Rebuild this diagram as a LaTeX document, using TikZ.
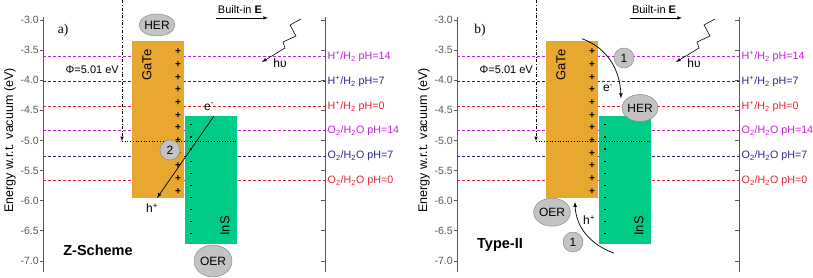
\documentclass[tikz,border=0pt]{standalone}
\usepackage{fontspec}
\setmainfont{Liberation Sans}
\newfontfamily\panelfont{Liberation Serif}
\usepackage{xcolor}
\usepackage{tikz}
\usetikzlibrary{arrows.meta,calc,positioning,shapes.geometric}
\definecolor{lvmag}{RGB}{200,30,220}
\definecolor{lvblue}{RGB}{40,40,140}
\definecolor{lvred}{RGB}{225,40,50}
\definecolor{gatecol}{RGB}{232,168,48}
\definecolor{inscol}{RGB}{0,204,136}
\definecolor{blobcol}{RGB}{195,195,195}
\newcommand\hredox{H\textsuperscript{+}/H\textsubscript{2}}
\newcommand\oredox{O\textsubscript{2}/H\textsubscript{2}O}

\begin{document}
\begin{tikzpicture}[x=1pt,y=60.25pt,
    axisline/.style={line width=0.8pt,black!65},
    level/.style={line width=0.9pt,dash pattern=on 3pt off 2pt},
    ticklab/.style={left,inner sep=1pt,font=\fontsize{10.5}{12}\selectfont},
    redox/.style={right,inner sep=0.5pt,font=\fontsize{10.7}{13}\selectfont},
    sign/.style={inner sep=0pt,font=\fontsize{10}{11}\selectfont\bfseries},
    blob/.style={ellipse,fill=blobcol,draw=black!45,line width=0.5pt,inner sep=0pt,font=\fontsize{12}{14}\selectfont},
    numdot/.style={circle,fill=blobcol,draw=black!45,line width=0.5pt,minimum size=20pt,inner sep=0pt,font=\fontsize{12}{14}\selectfont},
    carrier/.style={inner sep=1pt,font=\fontsize{12}{14}\selectfont},
    bandlab/.style={rotate=90,inner sep=0pt,font=\fontsize{13}{15}\selectfont},
    scheme/.style={inner sep=0pt,font=\fontsize{14.5}{16}\selectfont\bfseries}]
  \useasboundingbox (0,-7.266) rectangle (813,-2.668);
  % both panels
  \foreach \lab/\sx in {a/0,b/414}{
    \begin{scope}[xshift=\sx pt]
      % axes
      \draw[axisline] (43,-2.95) -- (43,-7.18);
      \draw[axisline] (325,-2.95) -- (325,-7.18);
      \foreach \E in {-3.0,-3.5,-4.0,-4.5,-5.0,-5.5,-6.0,-6.5,-7.0}{
        \draw[axisline] (43,\E) -- +(-3pt,0) node[ticklab] {\E};
        \draw[axisline] (325,\E) -- +(-4pt,0);
      }
      \node[rotate=90,font=\fontsize{12.5}{14}\selectfont] (ylab\lab) at (10,-5.0) {Energy w.r.t. vacuum (eV)};
      % redox levels
      \foreach \E/\col/\txt [count=\k] in {-3.605/lvmag/\hredox{} pH=14, -4.027/lvblue/\hredox{} pH=7, -4.44/lvred/\hredox{} pH=0,
          -4.84/lvmag/\oredox{} pH=14, -5.26/lvblue/\oredox{} pH=7, -5.67/lvred/\oredox{} pH=0}{
        \draw[level,draw=\col] (43,\E) -- (325,\E);
        \node[redox,text=\col] (red\lab\k) at (327,\E) {\txt};
      }
      % bands
      \fill[gatecol] (132,-3.35) rectangle (184,-5.96);
      \fill[inscol] (184.5,-4.6) rectangle (237,-6.72);
      \node[bandlab] (gate\lab) at (147,-3.75) {GaTe};
      \node[bandlab] (ins\lab) at (225,-6.42) {InS};
      \foreach \i in {0,...,11}
        \node[sign] (plus\lab\i) at (178,-3.53-\i*0.21) {+};
      \foreach \i in {0,...,9}
        \fill (190,-4.73-\i*0.201) rectangle +(2pt,-1.2pt);
      % work function
      \coordinate (phitop\lab) at (122,-2.67);
      \coordinate (phibot\lab) at (122,-5.01);
      \coordinate (fermi\lab) at (237,-5.01);
      \draw[dash dot,line width=0.6pt,-latex] (phitop\lab) -- (phibot\lab);
      \draw[dotted,line width=0.7pt] (phibot\lab) -- (fermi\lab);
      \node[left,inner sep=0pt,font=\fontsize{11}{13}\selectfont] (phi\lab) at (119,-3.83) {Φ=5.01 eV};
      % built-in field
      \node[font=\fontsize{11}{13}\selectfont] (field\lab) at (240,-2.834) {Built-in \textbf{E}};
      \coordinate (fs\lab) at (216,-2.965);
      \coordinate (fe\lab) at (268,-2.965);
      \draw[-latex,line width=0.6pt] (fs\lab) -- (fe\lab);
      % light
      \draw[-latex,line width=0.6pt] (301,-2.983) -- (290,-3.083) -- (296,-3.266) -- (283,-3.365) -- (285,-3.465) -- (262,-3.697);
      \node[carrier] (hv\lab) at (280,-3.72) {hυ};
    \end{scope}
  }
  % a) Z-scheme
  \node[font=\panelfont\fontsize{13.5}{15}\selectfont] (pa) at (63,-3.17) {a)};
  \node[blob,minimum width=35pt,minimum height=22pt] (hera) at (157,-3.083) {HER};
  \node[numdot] (twoa) at (170,-5.158) {2};
  \node[carrier] (ea) at (209,-4.444) {e\textsuperscript{-}};
  \coordinate (za1) at (214,-4.593);
  \coordinate (za2) at (157,-5.954);
  \draw[-latex,line width=0.7pt] (za1) -- (za2);
  \node[carrier] (ha) at (152,-6.12) {h\textsuperscript{+}};
  \node[scheme] (za) at (98,-6.817) {Z-Scheme};
  \node[blob,minimum width=38pt,minimum height=32pt] (oera) at (213,-7.0) {OER};
  % b) type-II
  \begin{scope}[xshift=414pt]
    \node[font=\panelfont\fontsize{13.5}{15}\selectfont] (pb) at (66,-3.17) {b)};
    \node[blob,minimum width=33pt,minimum height=27pt] (herb) at (226,-4.46) {HER};
    \coordinate (cb1) at (168,-3.31);
    \coordinate (cb2) at (207,-4.30);
    \draw[-latex,line width=0.7pt] (cb1) to[out=-20,in=92] (cb2);
    \node[numdot] (oneb) at (210,-3.63) {1};
    \node[carrier] (eb) at (194,-4.13) {e\textsuperscript{-}};
    \node[blob,minimum width=33pt,minimum height=28pt] (oerb) at (138,-6.19) {OER};
    \coordinate (cb3) at (200,-6.87);
    \coordinate (cb4) at (161,-6.02);
    \draw[-latex,line width=0.7pt] (cb3) to[out=160,in=-88] (cb4);
    \node[carrier] (hb) at (175,-6.32) {h\textsuperscript{+}};
    \node[numdot] (twob) at (159,-6.685) {1};
    \node[scheme] (tb) at (86,-6.73) {Type-II};
  \end{scope}
\end{tikzpicture}
\end{document}
